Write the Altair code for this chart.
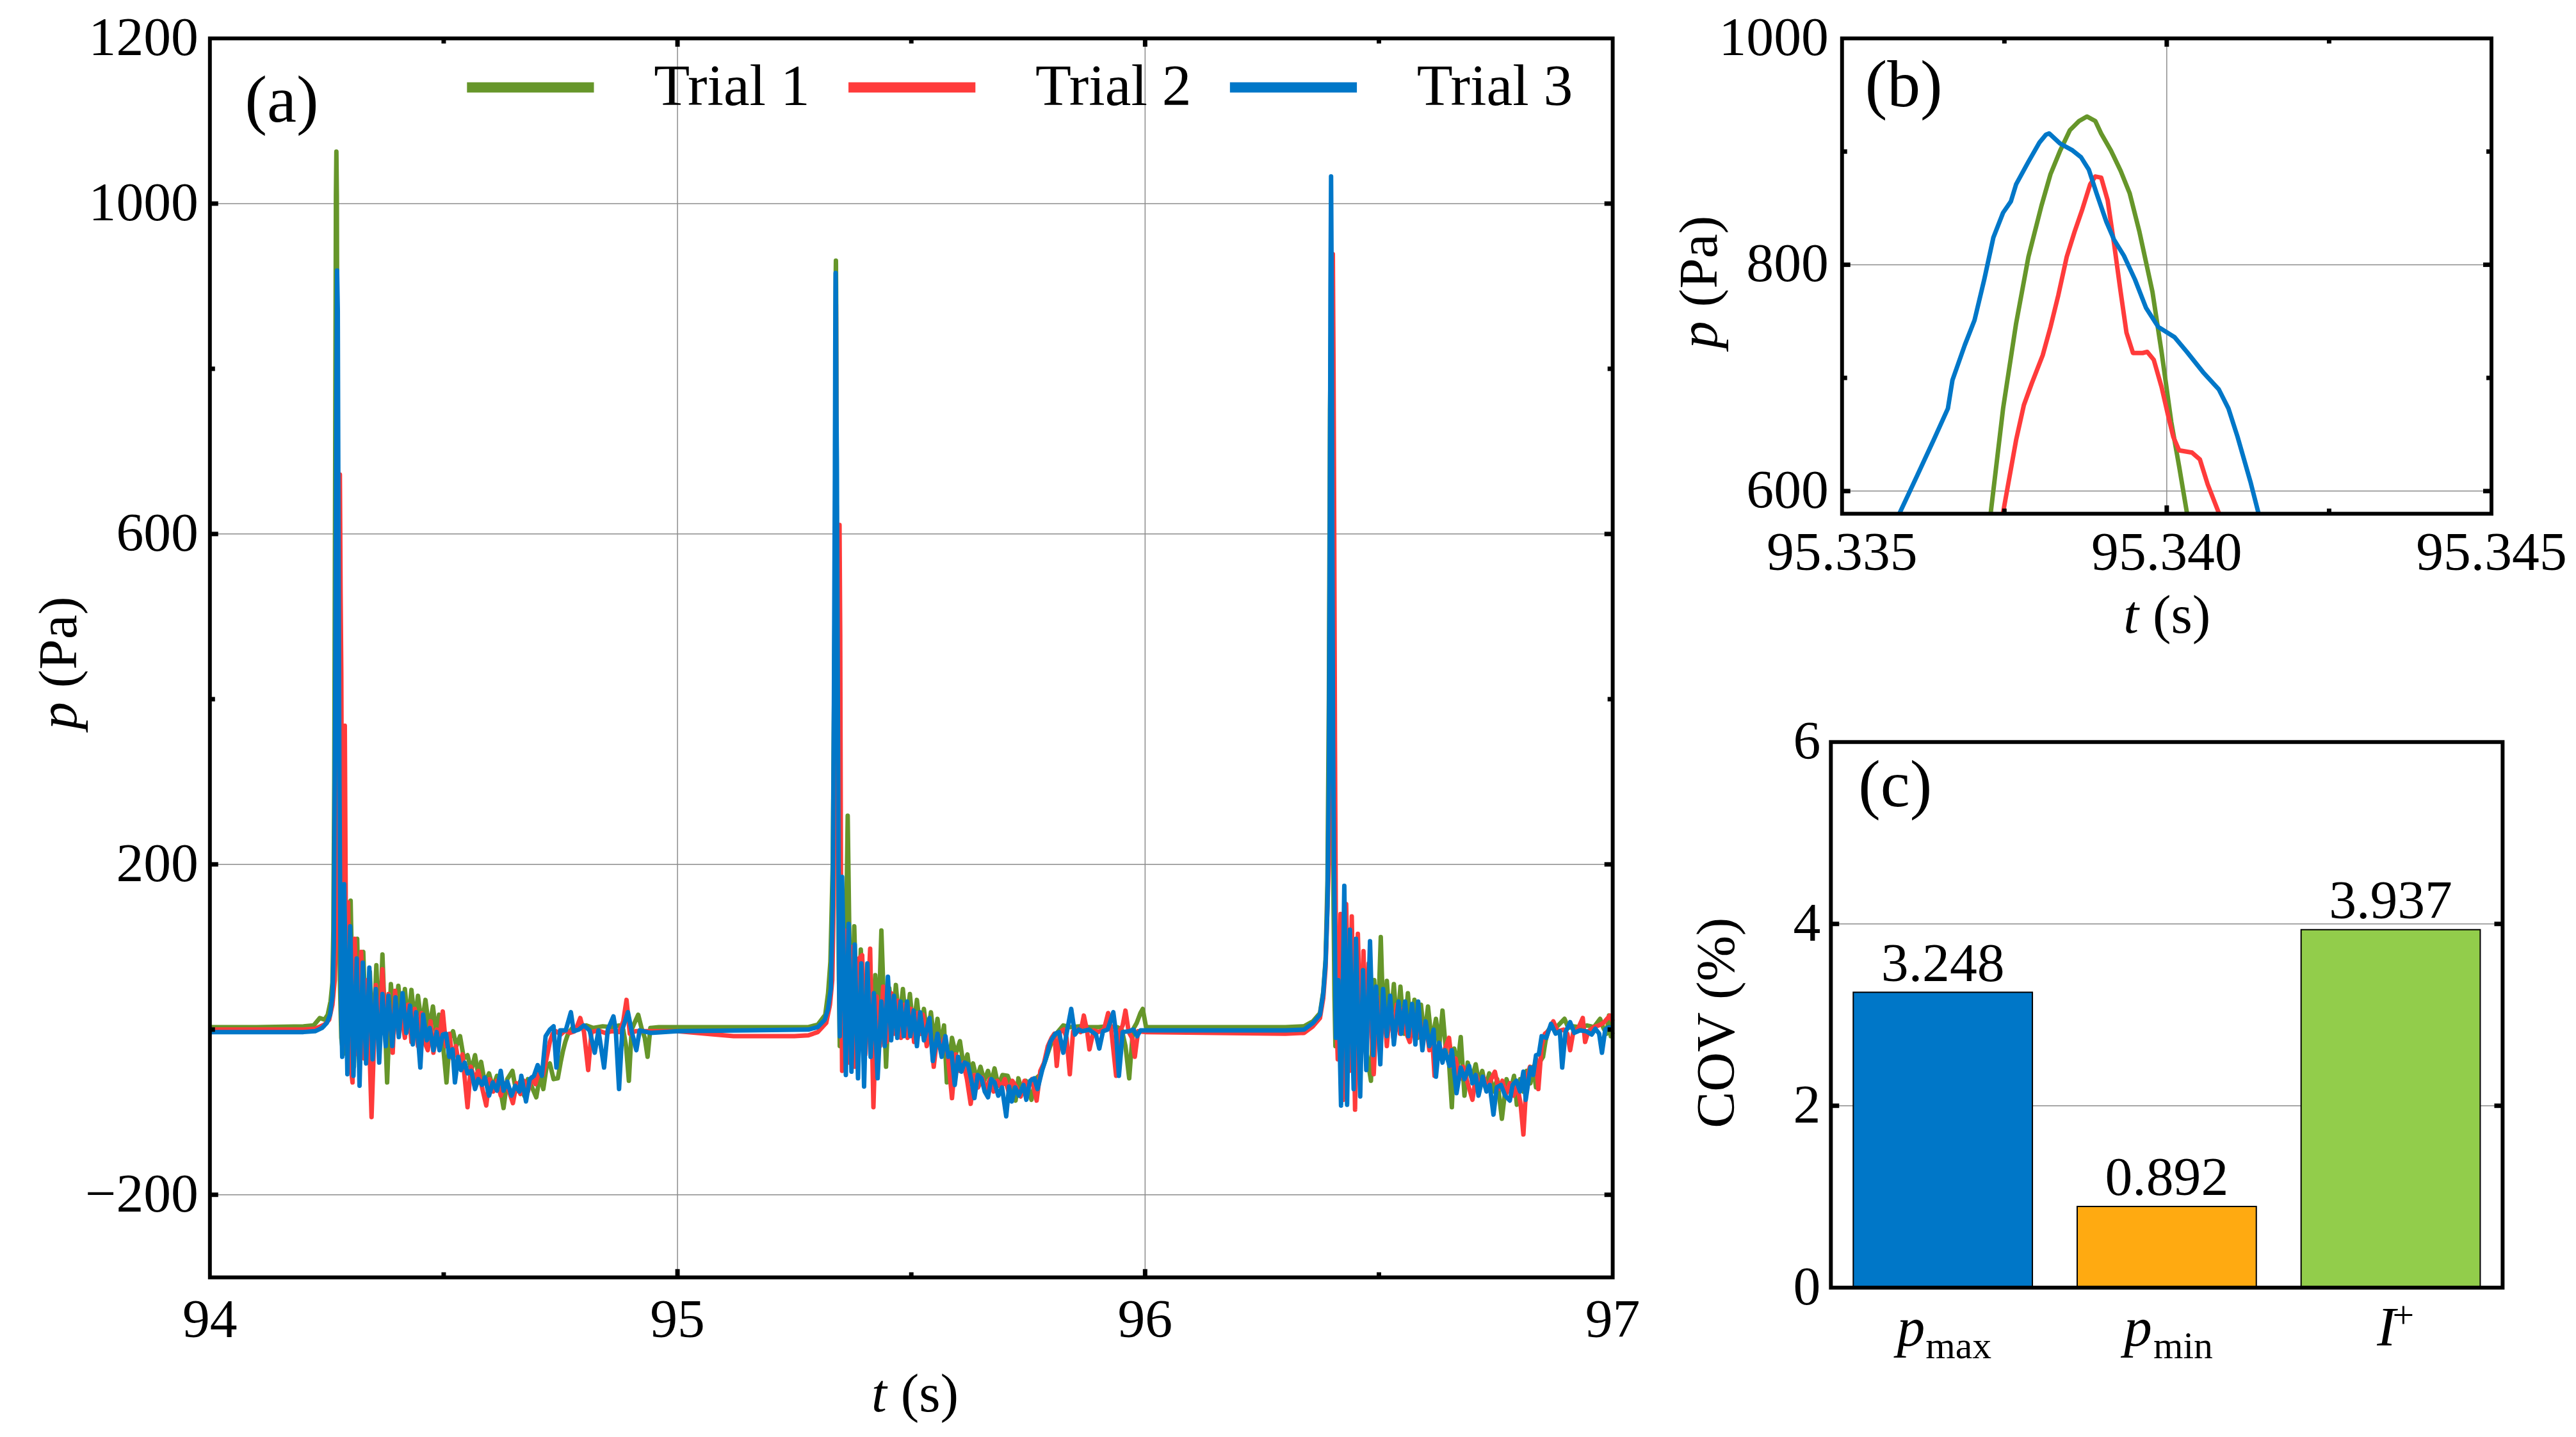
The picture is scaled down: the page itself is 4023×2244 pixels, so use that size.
import altair as alt
import pandas as pd

FONT = "Liberation Serif"
TRIALS = ["Trial 1", "Trial 2", "Trial 3"]
LINE_COLORS = ["#66962A", "#FF3B3B", "#0077C8"]

# ---------------- Trial 1 (green) ----------------
T1_A = [(94.000,3),(94.100,3),(94.200,4),(94.222,5),(94.235,14),(94.245,12),(94.252,18),(94.258,34),(94.262,57),(94.264,120),(94.266,300),(94.268,700),(94.2695,1010),(94.2705,1063),(94.2715,1010),(94.273,700),(94.2745,400),(94.276,200),(94.278,60),(94.281,-10),
(94.285,-30),(94.294,20),(94.301,156),(94.308,-45),(94.315,110),(94.321,-40),(94.328,94),(94.335,-25),(94.342,70),(94.349,-20),(94.356,78),(94.362,-15),(94.369,91),(94.379,-64),(94.387,55),(94.395,5),(94.403,53),(94.410,10),(94.417,49),(94.424,8),(94.431,48),(94.438,10),(94.445,41),(94.453,5),(94.461,36),(94.469,0),(94.477,28),(94.484,-5),(94.490,18),(94.498,-15),(94.506,-64),(94.513,-10),(94.520,-2),(94.527,-20),(94.535,-8),(94.543,-35),(94.551,-31),(94.559,-50),(94.567,-31),(94.574,-55),(94.580,-39),(94.588,-65),(94.597,-53),(94.605,-70),(94.614,-56),(94.621,-72),(94.628,-95),(94.636,-60),(94.647,-50),(94.655,-75),(94.664,-62),(94.672,-80),(94.680,-60),(94.689,-70),(94.698,-82),(94.706,-55),(94.713,-72),(94.720,-45),(94.727,-41),(94.735,-60),(94.744,-59),(94.750,-40),(94.755,-26),(94.760,-15),(94.766,-5),(94.775,2),(94.790,3),(94.805,5),(94.820,2),(94.840,4),(94.860,3),(94.875,5),(94.884,0),(94.890,-20),(94.896,-62),(94.902,0),(94.908,8),(94.916,18),(94.923,2),(94.930,-10),(94.936,-33),(94.942,2),(94.960,3),(95.100,3),(95.280,3)]

T1_B = [(95.300,6),(95.316,18),(95.322,44),(95.327,82),(95.332,200),(95.3355,450),(95.33729,581),(95.33748,673),(95.33768,748),(95.33787,807),(95.33807,852),(95.33821,880),(95.33836,901),(95.33851,919),(95.33865,927),(95.33877,931),(95.33890,927),(95.33899,916),(95.33914,901),(95.33929,883),(95.33943,863),(95.33958,829),(95.33978,776),(95.33992,723),(95.34007,661),(95.34019,622),(95.34031,581),(95.3415,450),(95.343,250),(95.345,80),(95.347,-20),
(95.350,40),(95.357,-40),(95.364,259),(95.371,-30),(95.378,125),(95.385,-20),(95.392,97),(95.400,-15),(95.408,70),(95.415,-10),(95.423,66),(95.430,5),(95.436,120),(95.446,-45),(95.453,50),(95.460,5),(95.467,54),(95.474,8),(95.482,49),(95.489,6),(95.497,43),(95.504,0),(95.512,36),(95.520,-5),(95.527,25),(95.534,-10),(95.542,21),(95.549,-15),(95.556,13),(95.563,-20),(95.570,5),(95.576,-64),(95.587,-10),(95.595,-30),(95.604,-14),(95.612,-45),(95.620,-30),(95.626,-55),(95.632,-41),(95.640,-60),(95.648,-45),(95.656,-62),(95.664,-50),(95.671,-65),(95.678,-47),(95.686,-68),(95.695,-55),(95.706,-56),(95.715,-70),(95.723,-86),(95.729,-59),(95.737,-75),(95.745,-62),(95.757,-85),(95.765,-60),(95.775,-55),(95.785,-40),(95.797,-20),(95.810,-5),(95.825,5),(95.840,3),(95.860,4),(95.880,3),(95.900,3),(95.920,4),(95.940,3),(95.950,0),(95.958,-20),(95.966,-59),(95.974,0),(95.982,8),(95.990,20),(95.995,25),(96.002,3),(96.020,3),(96.150,3),(96.300,3)]

T1_C = [(96.340,4),(96.359,10),(96.374,20),(96.381,46),(96.386,85),(96.390,180),(96.393,400),(96.3955,750),(96.398,880),(96.3995,600),(96.401,350),(96.403,150),(96.405,40),(96.407,-20),
(96.412,90),(96.418,-40),(96.425,140),(96.432,-50),(96.439,110),(96.446,-45),(96.453,95),(96.460,-40),(96.467,80),(96.474,-30),(96.483,-62),(96.490,60),(96.497,-10),(96.504,112),(96.510,0),(96.517,59),(96.524,5),(96.532,55),(96.539,0),(96.546,52),(96.554,-5),(96.562,44),(96.569,-5),(96.576,36),(96.583,-10),(96.590,30),(96.597,-10),(96.605,28),(96.613,-15),(96.622,13),(96.629,-20),(96.636,23),(96.644,-30),(96.650,-40),(96.656,-94),(96.661,-23),(96.668,-45),(96.675,-9),(96.683,-80),(96.690,-40),(96.699,-60),(96.707,-42),(96.714,-65),(96.721,-50),(96.728,-70),(96.736,-53),(96.745,-75),(96.753,-60),(96.763,-108),(96.773,-60),(96.781,-75),(96.789,-56),(96.795,-91),(96.802,-60),(96.809,-75),(96.816,-50),(96.824,-65),(96.830,-45),(96.836,-70),(96.843,-40),(96.851,-33),(96.856,-15),(96.861,-2),(96.870,5),(96.880,3),(96.897,13),(96.905,2),(96.915,4),(96.930,3),(96.945,5),(96.960,3),(96.973,13),(96.980,2),(96.987,-5),(96.992,17),(96.996,-8),(97.000,-3)]

# ---------------- Trial 2 (red) ----------------
T2_A = [(94.000,0),(94.100,0),(94.200,0),(94.225,1),(94.245,6),(94.255,12),(94.262,30),(94.267,60),(94.270,120),(94.273,300),(94.276,550),(94.278,672),(94.2795,528),(94.281,432),(94.283,150),(94.285,-20),(94.2885,368),(94.291,100),(94.2955,154),(94.300,-40),(94.305,-64),(94.3097,110),(94.316,-30),(94.3234,94),(94.330,-35),(94.337,60),(94.3457,-106),(94.355,54),(94.362,-20),(94.369,73),(94.376,-15),(94.382,43),(94.391,-28),(94.396,47),(94.403,-5),(94.410,18),(94.417,-10),(94.424,30),(94.431,-15),(94.438,25),(94.445,-20),(94.452,20),(94.459,-15),(94.466,-25),(94.472,10),(94.478,-28),(94.485,0),(94.491,-10),(94.498,22),(94.505,-20),(94.512,-5),(94.519,-35),(94.526,-20),(94.533,-45),(94.540,-30),(94.551,-94),(94.558,-45),(94.566,-60),(94.574,-50),(94.582,-70),(94.591,-92),(94.598,-60),(94.606,-75),(94.614,-62),(94.622,-80),(94.630,-65),(94.640,-75),(94.648,-89),(94.656,-65),(94.664,-78),(94.672,-62),(94.680,-75),(94.688,-58),(94.696,-66),(94.704,-50),(94.712,-55),(94.720,-35),(94.727,-15),(94.733,-5),(94.740,-2),(94.750,-6),(94.760,-1),(94.770,-4),(94.780,-2),(94.786,5),(94.792,14),(94.800,-3),(94.809,-49),(94.816,-3),(94.830,-1),(94.845,-4),(94.860,-2),(94.875,-3),(94.884,10),(94.891,36),(94.898,-5),(94.910,-2),(94.930,-2),(95.000,-2),(95.080,-6),(95.120,-8),(95.250,-8),(95.280,-7)]

T2_B = [(95.300,-3),(95.318,8),(95.326,30),(95.331,60),(95.334,150),(95.3362,350),(95.33748,581),(95.33768,645),(95.33780,676),(95.33792,695),(95.33809,720),(95.33821,745),(95.33833,773),(95.33846,807),(95.33858,829),(95.33870,849),(95.33882,871),(95.33890,878),(95.33899,877),(95.33909,857),(95.33919,818),(95.33929,776),(95.33938,740),(95.33948,722),(95.33963,722),(95.33970,723),(95.33980,716),(95.33992,692),(95.34002,667),(95.34010,648),(95.34019,636),(95.34039,634),(95.34051,628),(95.34063,606),(95.34080,581),(95.342,500),(95.3435,300),(95.345,200),(95.3465,611),(95.348,477),(95.350,100),
(95.352,-50),(95.358,120),(95.365,-40),(95.372,100),(95.379,-45),(95.386,85),(95.395,90),(95.402,-30),(95.412,98),(95.419,-94),(95.426,40),(95.433,-20),(95.440,52),(95.447,-15),(95.457,44),(95.464,-5),(95.471,35),(95.478,-10),(95.485,30),(95.492,-10),(95.499,25),(95.506,-15),(95.513,20),(95.520,-5),(95.525,18),(95.533,-20),(95.540,5),(95.548,-45),(95.556,-5),(95.564,-25),(95.571,-10),(95.579,-35),(95.587,-83),(95.595,-30),(95.603,-50),(95.611,-40),(95.619,-60),(95.627,-90),(95.635,-55),(95.643,-70),(95.651,-58),(95.660,-72),(95.668,-60),(95.676,-75),(95.684,-62),(95.692,-70),(95.700,-60),(95.708,-75),(95.716,-62),(95.725,-70),(95.734,-81),(95.742,-62),(95.750,-70),(95.758,-60),(95.768,-86),(95.776,-50),(95.784,-40),(95.792,-20),(95.800,-10),(95.806,-5),(95.811,-44),(95.818,-3),(95.826,0),(95.832,-10),(95.839,-54),(95.846,-2),(95.855,0),(95.862,-3),(95.869,17),(95.876,-2),(95.881,-24),(95.890,-1),(95.900,-3),(95.912,0),(95.921,20),(95.928,-2),(95.938,-56),(95.945,-3),(95.952,5),(95.958,23),(95.965,-3),(95.972,-10),(95.978,-33),(95.985,-2),(96.000,-3),(96.150,-4),(96.300,-5)]

T2_C = [(96.340,-4),(96.359,4),(96.374,14),(96.381,38),(96.386,75),(96.390,150),(96.393,200),(96.396,500),(96.399,800),(96.4015,939),(96.403,800),(96.4045,600),(96.406,350),(96.408,120),(96.410,0),
(96.412,-36),(96.418,140),(96.424,-85),(96.430,152),(96.437,-50),(96.442,137),(96.449,-97),(96.455,116),(96.462,-30),(96.467,95),(96.473,-20),(96.478,80),(96.485,-10),(96.489,-54),(96.496,40),(96.503,-15),(96.510,35),(96.517,-20),(96.524,30),(96.531,-10),(96.538,30),(96.545,-5),(96.552,25),(96.559,-5),(96.566,-15),(96.573,20),(96.580,-10),(96.587,15),(96.594,-15),(96.601,5),(96.608,-25),(96.614,-10),(96.619,-56),(96.626,-20),(96.633,-35),(96.640,-25),(96.650,-10),(96.657,-45),(96.664,-35),(96.672,-60),(96.680,-45),(96.690,-65),(96.700,-85),(96.708,-55),(96.716,-70),(96.724,-58),(96.732,-72),(96.740,-60),(96.748,-51),(96.756,-72),(96.764,-62),(96.772,-78),(96.780,-65),(96.788,-80),(96.796,-68),(96.803,-90),(96.809,-127),(96.816,-60),(96.823,-45),(96.830,-55),(96.836,-35),(96.841,-72),(96.848,-20),(96.855,-5),(96.862,-2),(96.873,10),(96.882,-2),(96.895,0),(96.903,-5),(96.909,-25),(96.916,-2),(96.925,0),(96.936,14),(96.941,-15),(96.948,-2),(96.960,3),(96.970,5),(96.980,8),(96.994,17),(97.000,10)]

# ---------------- Trial 3 (blue) ----------------
T3_A = [(94.000,-3),(94.100,-3),(94.200,-3),(94.225,-2),(94.240,2),(94.250,8),(94.257,18),(94.262,40),(94.265,100),(94.268,400),(94.2705,750),(94.272,919),(94.2735,870),(94.275,600),(94.277,300),(94.279,120),(94.281,20),
(94.283,-33),(94.287,176),(94.294,-54),(94.300,125),(94.307,-56),(94.314,86),(94.320,-68),(94.327,81),(94.334,-41),(94.341,75),(94.348,-36),(94.355,49),(94.362,-40),(94.369,43),(94.376,-20),(94.382,41),(94.390,-20),(94.397,39),(94.404,-9),(94.412,44),(94.420,-4),(94.428,29),(94.434,-18),(94.441,21),(94.450,-46),(94.456,18),(94.464,-13),(94.470,2),(94.478,-25),(94.485,-3),(94.491,-25),(94.498,-6),(94.505,-5),(94.512,-33),(94.519,-24),(94.524,-64),(94.531,-33),(94.537,-49),(94.545,-40),(94.551,-53),(94.559,-50),(94.567,-72),(94.574,-60),(94.582,-67),(94.588,-58),(94.597,-80),(94.605,-64),(94.614,-74),(94.622,-50),(94.628,-74),(94.636,-63),(94.645,-80),(94.653,-68),(94.662,-75),(94.666,-56),(94.676,-87),(94.684,-60),(94.693,-56),(94.701,-43),(94.710,-56),(94.718,-8),(94.727,0),(94.735,4),(94.741,-46),(94.749,-1),(94.761,-1),(94.772,21),(94.778,-2),(94.789,0),(94.800,5),(94.812,-1),(94.823,-28),(94.831,-1),(94.843,-46),(94.851,0),(94.863,16),(94.868,-1),(94.875,-72),(94.882,0),(94.894,21),(94.902,-2),(94.912,-25),(94.919,-1),(94.942,-4),(95.000,-2),(95.150,-1),(95.280,0)]

T3_B = [(95.300,3),(95.315,12),(95.322,25),(95.328,50),(95.332,150),(95.3345,400),(95.33589,581),(95.33616,614),(95.33641,645),(95.33663,673),(95.33670,698),(95.33689,729),(95.33704,751),(95.33719,787),(95.33733,824),(95.33748,846),(95.33760,856),(95.33768,871),(95.33787,891),(95.33804,908),(95.33814,915),(95.33819,916),(95.33836,907),(95.33855,901),(95.33868,895),(95.33880,884),(95.33892,863),(95.33907,838),(95.33919,822),(95.33934,808),(95.33951,787),(95.33968,762),(95.33987,745),(95.34012,736),(95.34031,723),(95.34056,705),(95.34080,690),(95.34095,673),(95.34109,648),(95.34129,608),(95.34141,581),(95.3425,450),(95.344,250),(95.3455,60),
(95.347,-8),(95.352,185),(95.360,-55),(95.366,128),(95.372,-51),(95.379,103),(95.386,-59),(95.393,80),(95.399,-69),(95.406,80),(95.413,-33),(95.420,44),(95.428,-59),(95.436,34),(95.443,-20),(95.450,64),(95.457,-13),(95.463,41),(95.470,-10),(95.477,34),(95.484,-8),(95.491,34),(95.498,-8),(95.505,23),(95.512,-20),(95.519,21),(95.527,-13),(95.539,14),(95.546,-38),(95.556,-5),(95.565,-33),(95.573,-8),(95.579,-33),(95.586,-28),(95.593,-67),(95.600,-33),(95.607,-51),(95.614,-40),(95.621,-42),(95.628,-60),(95.635,-83),(95.642,-55),(95.650,-59),(95.657,-75),(95.664,-82),(95.671,-60),(95.678,-64),(95.686,-80),(95.694,-70),(95.703,-105),(95.709,-69),(95.715,-87),(95.722,-70),(95.730,-80),(95.740,-67),(95.746,-85),(95.754,-62),(95.763,-59),(95.770,-72),(95.780,-49),(95.788,-35),(95.797,-15),(95.808,-5),(95.816,-3),(95.825,-28),(95.833,-2),(95.842,25),(95.850,-6),(95.858,0),(95.866,-2),(95.880,0),(95.895,-6),(95.902,-23),(95.910,-2),(95.920,0),(95.932,21),(95.938,-5),(95.944,-56),(95.952,-3),(95.966,-2),(95.975,0),(95.983,-8),(95.990,-1),(96.100,-1),(96.300,-1)]

T3_C = [(96.340,0),(96.359,8),(96.374,18),(96.381,44),(96.386,82),(96.390,150),(96.393,300),(96.395,600),(96.3965,900),(96.3977,1033),(96.399,900),(96.4003,600),(96.402,350),(96.404,200),(96.406,100),
(96.408,-10),(96.413,60),(96.419,-92),(96.426,174),(96.432,-91),(96.438,121),(96.446,-72),(96.451,110),(96.460,-81),(96.466,72),(96.473,-49),(96.481,107),(96.488,-31),(96.494,52),(96.503,-42),(96.509,49),(96.517,-8),(96.524,41),(96.532,-18),(96.542,34),(96.548,-5),(96.556,34),(96.563,-8),(96.571,31),(96.578,-18),(96.584,34),(96.593,-25),(96.600,10),(96.608,-20),(96.617,0),(96.622,-57),(96.629,-16),(96.636,-40),(96.641,-25),(96.651,-44),(96.656,-25),(96.666,-77),(96.675,-46),(96.683,-60),(96.693,-44),(96.700,-65),(96.707,-55),(96.713,-80),(96.722,-57),(96.730,-75),(96.737,-67),(96.745,-103),(96.752,-70),(96.761,-67),(96.770,-80),(96.780,-86),(96.786,-67),(96.794,-62),(96.802,-75),(96.809,-51),(96.814,-85),(96.824,-46),(96.830,-55),(96.836,-31),(96.842,-30),(96.848,-8),(96.858,-10),(96.868,7),(96.878,-5),(96.887,-2),(96.892,-46),(96.899,-3),(96.909,9),(96.918,-4),(96.930,-1),(96.943,-2),(96.955,-6),(96.963,1),(96.971,-5),(96.977,-28),(96.984,0),(96.992,3),(97.000,1)]

# ---------------- Panel (c) ----------------
COV_CATS = ["pmax", "pmin", "Iplus"]
COV_VALUES = [3.248, 0.892, 3.937]
BAR_COLORS = ["#0077C8", "#FFAA11", "#92CD4B"]

# ---------------- axis ticks / grids ----------------
A_XLABELS = [94, 95, 96, 97]
A_YLABELS = [-200, 200, 600, 1000, 1200]
A_XMAJOR, A_XMINOR = [95, 96], [94.5, 95.5, 96.5]
A_YMAJOR, A_YMINOR = [-200, 200, 600, 1000], [0, 400, 800]
B_XLABELS = [95.335, 95.340, 95.345]
B_YLABELS = [600, 800, 1000]
B_XMAJOR, B_XMINOR = [95.340], [95.3375, 95.3425]
B_YMAJOR, B_YMINOR = [600, 800], [700, 900]
C_YLABELS = [0, 2, 4, 6]
C_YMAJOR = [2, 4]

rows = []
for name, segs in zip(TRIALS, [[T1_A, T1_B, T1_C], [T2_A, T2_B, T2_C], [T3_A, T3_B, T3_C]]):
    for seg in segs:
        for t, p in seg:
            rows.append({"t": t, "p": p, "trial": name})
DF = pd.DataFrame(rows)
ONE = pd.DataFrame({"k": [0]})

GRID = "#8c8c8c"
CSCALE = alt.Scale(domain=TRIALS, range=LINE_COLORS)
TICK_FS = 86


def txt(text, x, y, size, style="normal", align="left", angle=0, baseline="middle"):
    return alt.Chart(ONE).mark_text(text=text, font=FONT, fontSize=size, fontStyle=style,
                                    align=align, baseline=baseline, angle=angle,
                                    color="black").encode(x=alt.value(x), y=alt.value(y))


def frame(W, H):
    return alt.Chart(ONE).mark_rect(fillOpacity=0, stroke="black", strokeWidth=6).encode(
        x=alt.value(0), x2=alt.value(W), y=alt.value(0), y2=alt.value(H))


def vrules(vals, scale, y0, y1, width, color):
    d = pd.DataFrame({"v": vals})
    return alt.Chart(d).mark_rule(color=color, strokeWidth=width).encode(
        x=alt.X("v:Q", scale=scale, axis=None), y=alt.value(y0), y2=alt.value(y1))


def hrules(vals, scale, x0, x1, width, color):
    d = pd.DataFrame({"v": vals})
    return alt.Chart(d).mark_rule(color=color, strokeWidth=width).encode(
        y=alt.Y("v:Q", scale=scale, axis=None), x=alt.value(x0), x2=alt.value(x1))


def ticks_x(vals, scale, H, L):
    return [vrules(vals, scale, H, H - L, 7, "black"), vrules(vals, scale, 0, L, 7, "black")]


def ticks_y(vals, scale, W, L):
    return [hrules(vals, scale, 0, L, 7, "black"), hrules(vals, scale, W, W - L, 7, "black")]


def xlabels(vals, scale, H, pad, fmt):
    d = pd.DataFrame({"v": vals})
    return alt.Chart(d).mark_text(font=FONT, fontSize=TICK_FS, baseline="top", align="center",
                                  color="black").encode(
        x=alt.X("v:Q", scale=scale, axis=None), y=alt.value(H + pad),
        text=alt.Text("v:Q", format=fmt))


def ylabels(vals, scale, pad, fmt):
    d = pd.DataFrame({"v": vals})
    return alt.Chart(d).mark_text(font=FONT, fontSize=TICK_FS, baseline="middle", align="right",
                                  color="black").encode(
        y=alt.Y("v:Q", scale=scale, axis=None), x=alt.value(-pad),
        text=alt.Text("v:Q", format=fmt))


def line_layers(df, xs, ys, legend, clip):
    out = []
    for tr in TRIALS:
        out.append(alt.Chart(df[df.trial == tr]).mark_line(strokeWidth=7, strokeJoin="round", clip=clip).encode(
            x=alt.X("t:Q", scale=xs, axis=None),
            y=alt.Y("p:Q", scale=ys, axis=None),
            color=alt.Color("trial:N", scale=CSCALE, legend=legend)))
    return out


# ---------------- Panel (a) ----------------
WA, HA = 2199, 1942
ax_s = alt.Scale(domain=[94, 97], nice=False, zero=False)
ay_s = alt.Scale(domain=[-300, 1200], nice=False, zero=False)
a_legend = alt.Legend(title=None, orient="none", legendX=395, legendY=-31, direction="horizontal",
                      symbolType="stroke", symbolSize=199 * 199, symbolStrokeWidth=16,
                      labelFont=FONT, labelFontSize=92, labelColor="black", labelOffset=86,
                      columnPadding=28, padding=0, labelLimit=600)
a_layers = [vrules(A_XMAJOR, ax_s, 0, HA, 1.5, GRID), hrules(A_YMAJOR, ay_s, 0, WA, 1.5, GRID)]
a_layers += line_layers(DF, ax_s, ay_s, a_legend, False)
a_layers += ticks_x(A_XMAJOR, ax_s, HA, 13) + ticks_x(A_XMINOR, ax_s, HA, 8)
a_layers += ticks_y(A_YMAJOR, ay_s, WA, 13) + ticks_y(A_YMINOR, ay_s, WA, 8)
a_layers += [xlabels(A_XLABELS, ax_s, HA, 26, "d"), ylabels(A_YLABELS, ay_s, 18, "d")]
a_layers += [frame(WA, HA),
             txt("(a)", 55, 100, 104),
             txt("p", -236, 1083, 86, style="italic", angle=270),
             txt("(Pa)", -236, 1018, 86, angle=270),
             txt("t", 1061, 2126, 86, style="italic", align="right"),
             txt("(s)", 1083, 2126, 86)]
panel_a = alt.layer(*a_layers).properties(width=WA, height=HA)

# ---------------- Panel (b) ----------------
WB, HB = 1018, 745
bx_s = alt.Scale(domain=[95.335, 95.345], nice=False, zero=False)
by_s = alt.Scale(domain=[580, 1000], nice=False, zero=False)
DFB = DF[(DF.t >= 95.333) & (DF.t <= 95.345)]
b_layers = [vrules(B_XMAJOR, bx_s, 0, HB, 1.5, GRID), hrules(B_YMAJOR, by_s, 0, WB, 1.5, GRID)]
b_layers += line_layers(DFB, bx_s, by_s, None, True)
b_layers += ticks_x(B_XMAJOR, bx_s, HB, 13) + ticks_x(B_XMINOR, bx_s, HB, 8)
b_layers += ticks_y(B_YMAJOR, by_s, WB, 13) + ticks_y(B_YMINOR, by_s, WB, 8)
b_layers += [xlabels(B_XLABELS, bx_s, HB, 20, ".3f"), ylabels(B_YLABELS, by_s, 21, "d")]
b_layers += [frame(WB, HB),
             txt("(b)", 36, 75, 104),
             txt("p", -222, 486, 86, style="italic", angle=270),
             txt("(Pa)", -222, 421, 86, angle=270),
             txt("t", 465, 906, 86, style="italic", align="right"),
             txt("(s)", 487, 906, 86)]
panel_b = alt.layer(*b_layers).properties(width=WB, height=HB)

# ---------------- Panel (c) ----------------
WC, HC = 1053, 855
CDF = pd.DataFrame({"cat": COV_CATS, "val": COV_VALUES})
cx_s = alt.Scale(domain=COV_CATS, paddingInner=0.2, paddingOuter=0.1)
cy_s = alt.Scale(domain=[0, 6], nice=False, zero=False)
bars = alt.Chart(CDF).mark_bar(stroke="black", strokeWidth=2).encode(
    x=alt.X("cat:N", scale=cx_s, axis=None, sort=COV_CATS),
    y=alt.Y("val:Q", scale=cy_s, axis=None),
    fill=alt.Fill("cat:N", scale=alt.Scale(domain=COV_CATS, range=BAR_COLORS), legend=None))
vals = alt.Chart(CDF).mark_text(dy=-18, baseline="alphabetic", font=FONT, fontSize=86, color="black").encode(
    x=alt.X("cat:N", scale=cx_s, axis=None, sort=COV_CATS),
    y=alt.Y("val:Q", scale=cy_s, axis=None),
    text=alt.Text("val:Q", format=".3f"))


def cat_label(cat, text, size, style, align, dx, y):
    d = pd.DataFrame({"cat": [cat]})
    return alt.Chart(d).mark_text(text=text, font=FONT, fontSize=size, fontStyle=style, align=align,
                                  baseline="alphabetic", dx=dx, color="black").encode(
        x=alt.X("cat:N", scale=cx_s, axis=None, sort=COV_CATS), y=alt.value(y))


c_layers = [hrules(C_YMAJOR, cy_s, 0, WC, 1.5, GRID), bars, vals]
c_layers += ticks_y(C_YMAJOR, cy_s, WC, 13)
c_layers += [ylabels(C_YLABELS, cy_s, 16, "d")]
c_layers += [cat_label("pmax", "p", 88, "italic", "right", -28, 946),
             cat_label("pmax", "max", 60, "normal", "left", -27, 966),
             cat_label("pmin", "p", 88, "italic", "right", -23, 946),
             cat_label("pmin", "min", 60, "normal", "left", -21, 966),
             cat_label("Iplus", "I", 88, "italic", "right", 8, 946),
             cat_label("Iplus", "+", 60, "normal", "left", 3, 918)]
c_layers += [frame(WC, HC),
             txt("(c)", 43, 70, 104),
             txt("COV (%)", -178, 440, 86, align="center", angle=270)]
panel_c = alt.layer(*c_layers).properties(width=WC, height=HC)

right = alt.vconcat(panel_b, panel_c, spacing=358, bounds="flush", center=True)
chart = alt.hconcat(panel_a, right, spacing=342, bounds="flush").properties(
    padding={"left": 41, "top": 4, "right": 5, "bottom": 5}
).configure_view(stroke="transparent").configure(background="white")

chart.save("out.html", embed_options={"renderer": "svg", "actions": False})
